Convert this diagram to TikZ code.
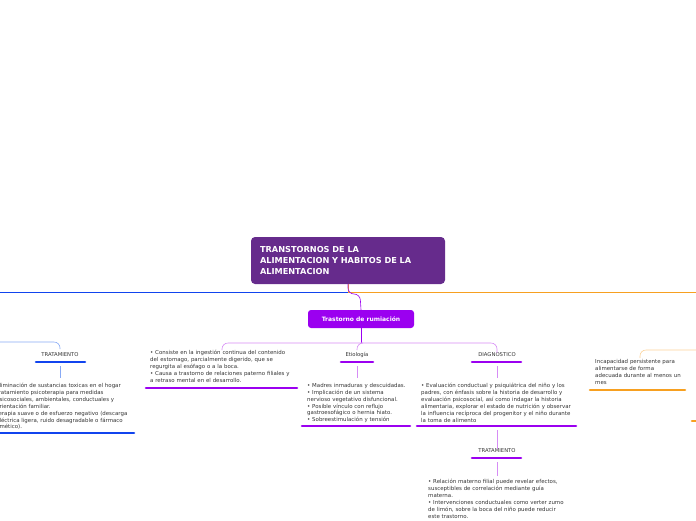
\documentclass[tikz,border=0pt]{standalone}
\usepackage{fontspec}
\setmainfont{DejaVu Sans}
\usetikzlibrary{positioning}
\definecolor{mainpurple}{HTML}{662B8C}
\definecolor{rumviolet}{HTML}{9B00F0}
\definecolor{lviolet}{HTML}{D68CF5}
\definecolor{bblue}{HTML}{1144EE}
\definecolor{lblue}{HTML}{88AAF5}
\definecolor{orng}{HTML}{F7A020}
\definecolor{lorng}{HTML}{FBD39A}
\tikzset{
  body/.style={anchor=north west, align=left, inner sep=0pt, font=\fontsize{5.45}{6.9}\selectfont, text=black!80},
  head/.style={inner sep=0pt, font=\fontsize{5.3}{6}\selectfont, text=black!80},
  bar/.style={line width=2.6pt, line cap=round},
  link/.style={line width=0.6pt, rounded corners=6pt}
}
\begin{document}
\begin{tikzpicture}[x=1pt,y=-1pt]
  \useasboundingbox (0,0) rectangle (696,520);
  % central topic
  \node[fill=mainpurple, rounded corners=4pt, minimum width=194pt, minimum height=47pt,
        text width=176pt, align=left, text=white, font=\fontsize{8.2}{11}\bfseries\selectfont]
        (main) at (348,260.5) {TRANSTORNOS DE LA\\ALIMENTACION Y HABITOS DE LA\\ALIMENTACION};
  \node[fill=rumviolet, rounded corners=3pt, minimum width=106pt, minimum height=18pt,
        text=white, font=\fontsize{6}{7}\bfseries\selectfont] (rum) at (361,319) {Trastorno de rumiación};
  % main branches
  \draw[bblue, line width=0.7pt] (main.south) |- (0,292);
  \draw[orng, line width=0.7pt] (main.south) |- (696,292);
  \draw[rumviolet, link] (main.south) |- (360,294) -- (rum.north);
  % left TRATAMIENTO
  \node[head] (tratL) at (60,355) {TRATAMIENTO};
  \draw[bblue, bar] (36,362) -- (85,362);
  \node[body, text width=150pt] (tratLtxt) at (-4,383) {Eliminación de sustancias toxicas en el hogar\\Tratamiento psicoterapia para medidas\\psicosociales, ambientales, conductuales y\\orientación familiar.\\Terapia suave o de esfuerzo negativo (descarga\\eléctrica ligera, ruido desagradable o fármaco\\emético).};
  \draw[bblue, bar] (0,433) -- (134,433);
  \draw[lblue, link] (0,342) -| (60,349);
  \draw[lblue, line width=0.6pt] (60,366) -- (60,378);
  % rumiacion children
  \node[body, text width=160pt] (cons) at (150,350) {• Consiste en la ingestión continua del contenido\\del estomago, parcialmente digerido, que se\\regurgita al esófago o a la boca.\\• Causa a trastorno de relaciones paterno filiales y\\a retraso mental en el desarrollo.};
  \draw[rumviolet, bar] (146,388) -- (297,388);
  \node[head] (etio) at (357,355) {Etiología};
  \draw[rumviolet, bar] (341,362) -- (373,362);
  \node[body, text width=120pt] (etiotxt) at (307,383) {• Madres inmaduras y descuidadas.\\• Implicación de un sistema\\nervioso vegetativo disfuncional.\\• Posible vínculo con reflujo\\gastroesofágico o hernia hiato.\\• Sobreestimulación y tensión};
  \draw[rumviolet, bar] (302,426) -- (410,426);
  \node[head] (diag) at (497,355) {DIAGNOSTICO};
  \draw[rumviolet, bar] (472,362) -- (521,362);
  \node[body, text width=170pt] (diagtxt) at (421,383) {• Evaluación conductual y psiquiátrica del niño y los\\padres, con énfasis sobre la historia de desarrollo y\\evaluación psicosocial, así como indagar la historia\\alimentaria, explorar el estado de nutrición y observar\\la influencia recíproca del progenitor y el niño durante\\la toma de alimento};
  \draw[rumviolet, bar] (417,426) -- (576,426);
  \draw[rumviolet, line width=0.6pt] (rum.south) -- (361,343);
  \draw[lviolet, link] (222,350) |- (497,343) -- (diag.north);
  \draw[lviolet, link] (361,343) -| (357,350);
  \draw[lviolet, line width=0.6pt] (357,366) -- (357,378);
  \draw[lviolet, line width=0.6pt] (497,366) -- (497,378);
  % second TRATAMIENTO
  \node[head] (tratR) at (497,451) {TRATAMIENTO};
  \draw[rumviolet, bar] (472,458) -- (521,458);
  \draw[lviolet, line width=0.6pt] (497,430) -- (tratR.north);
  \draw[lviolet, line width=0.6pt] (497,462) -- (497,476);
  \node[body, text width=160pt] (tratRtxt) at (428,479) {• Relación materno filial puede revelar efectos,\\susceptibles de correlación mediante guía\\materna.\\• Intervenciones conductuales como verter zumo\\de limón, sobre la boca del niño puede reducir\\este trastorno.};
  % right branch
  \node[body, text width=100pt] (incap) at (595,359) {Incapacidad persistente para\\alimentarse de forma\\adecuada durante al menos un\\mes};
  \draw[orng, bar] (590,390) -- (685,390);
  \draw[lorng, link] (640,358) |- (696,350);
  \draw[orng, bar] (692,421) -- (697,421);
\end{tikzpicture}
\end{document}
